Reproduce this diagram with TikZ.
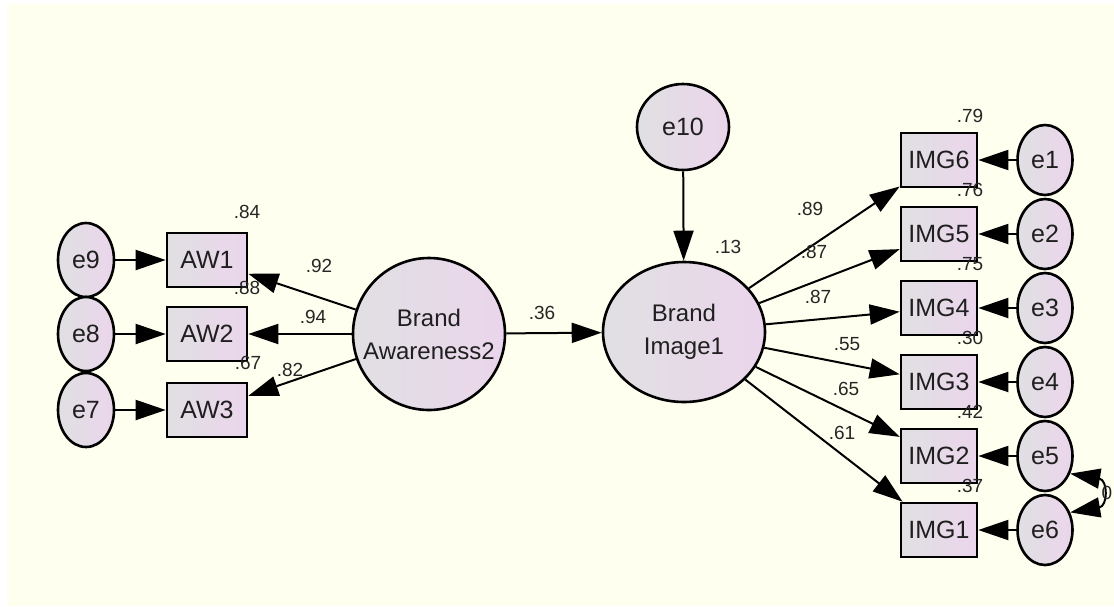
\documentclass[tikz,border=0pt]{standalone}
\usepackage{fontspec}
\setmainfont{Liberation Sans}
\usetikzlibrary{arrows.meta}
\usetikzlibrary{shapes.geometric}
\definecolor{bgcream}{HTML}{FEFFEF}
\definecolor{nodegray}{HTML}{E0E0E2}
\definecolor{nodepink}{HTML}{EBD5EC}

\begin{document}
\begin{tikzpicture}[x=0.5pt,y=-0.5pt]
  % some styles
  \tikzset{
    obs/.style={
      rectangle,
      draw=black,
      line width=1.3pt,
      left color=nodegray,
      right color=nodepink,
      minimum width=40pt,
      minimum height=27pt,
      inner sep=0pt,
      text=black!88,
      font=\fontsize{12.5}{14}\selectfont
    },
    err/.style={obs, ellipse, minimum width=28pt, minimum height=37pt},
    lat/.style={obs, align=center, font=\fontsize{12}{16.5}\selectfont},
    path/.style={line width=1pt, -{Triangle[length=15pt,width=10pt]}},
    coef/.style={inner sep=0pt, text=black!85, font=\fontsize{9.5}{10}\selectfont}
  }

\useasboundingbox (0,0) rectangle (1114,606);
\fill[white] (0,0) rectangle (1114,606);
\fill[bgcream] (7,4) rectangle (1114,606);

% latent variables
\node[lat, circle, minimum size=76pt] (ba) at (429,334) {Brand\\Awareness2};
\node[lat, ellipse, minimum width=81pt, minimum height=70pt] (bi) at (684,332) {Brand\\Image1};
\node[err, minimum width=46pt, minimum height=43pt] (e10) at (683,127) {e10};

% awareness side
\foreach \i/\e/\y in {1/9/260,2/8/334,3/7/410} {
    \node[obs] (aw\i) at (207,\y) {AW\i};
    \node[err] (e\e) at (86,\y) {e\e};
    \draw[path] (e\e) -- (aw\i);
    \draw[path] (ba) -- (aw\i);
}

% image side
\foreach \k/\i in {6/1,5/2,4/3,3/4,2/5,1/6} {
    \node[obs, minimum width=38pt] (img\k) at (939,160+74*\i-74) {IMG\k};
    \node[err, minimum width=27.5pt, minimum height=35pt] (e\i) at (1045,160+74*\i-74) {e\i};
    \draw[path] (e\i) -- (img\k);
    \draw[path] (bi) -- (img\k);
}

\draw[path] (ba) -- (bi);
\draw[path] (e10) -- (bi);
\draw[line width=1pt, {Triangle[length=15pt,width=10pt]}-{Triangle[length=15pt,width=10pt]}]
    (e5.-35) .. controls (1108,480) and (1108,506) .. (e6.35);

% estimates
\node[coef] (r84) at (247,212) {.84};
\node[coef] (r88) at (247,288) {.88};
\node[coef] (r67) at (248,363) {.67};
\node[coef] (l92) at (319,266) {.92};
\node[coef] (l94) at (313,317) {.94};
\node[coef] (l82) at (290,370) {.82};
\node[coef] (b36) at (542,313) {.36};
\node[coef] (r13) at (728,247) {.13};
\foreach \r [count=\i] in {.79,.76,.75,.30,.42,.37}
    \node[coef] (rimg\i) at (970,42+74*\i) {\r};
\foreach \l/\x/\y [count=\i] in {.89/810/209,.87/814/252,.87/818/297,.55/847/344,.65/846/389,.61/842/433}
    \node[coef] (limg\i) at (\x,\y) {\l};
\node[coef] (c56) at (1107,493) {0};
\end{tikzpicture}
\end{document}
